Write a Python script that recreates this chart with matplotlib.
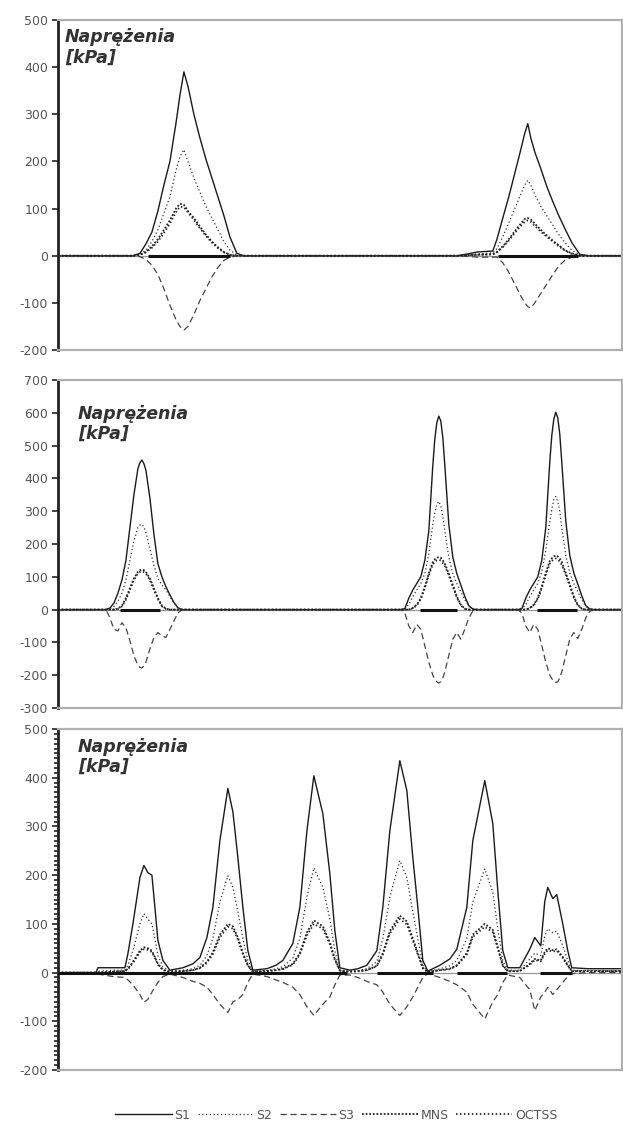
import matplotlib
matplotlib.use("Agg")
import matplotlib.pyplot as plt
from matplotlib.ticker import MultipleLocator
from matplotlib.lines import Line2D

plt.rcParams["axes.unicode_minus"] = False

# ---- panel 1 (top) ----
x_top = [0, 20, 40, 60, 75, 82, 88, 94, 100, 106, 112, 118, 122, 126, 130, 136,
         142, 148, 154, 160, 166, 172, 179, 186, 200, 250, 300, 350, 390, 400,
         420, 435, 439, 445, 451, 457, 463, 467, 470, 473, 477, 483, 489, 495,
         501, 507, 514, 522, 530, 545, 564]
s1_top = [0, 0, 0, 0, 0, 5, 25, 50, 95, 150, 200, 280, 340, 390, 360, 300,
          250, 205, 165, 125, 85, 40, 5, 0, 0, 0, 0, 0, 0, 0,
          8, 10, 34, 80, 125, 175, 225, 260, 280, 250, 220, 185, 147, 115,
          85, 58, 28, 3, 0, 0, 0]
s2_top = [0, 0, 0, 0, 0, 3, 12, 30, 55, 90, 125, 180, 210, 225, 200, 165,
          135, 105, 80, 55, 30, 12, 2, 0, 0, 0, 0, 0, 0, 0,
          4, 6, 15, 40, 70, 100, 130, 150, 160, 150, 130, 105, 85, 65,
          45, 28, 12, 2, 0, 0, 0]
s3_top = [0, 0, 0, 0, 0, -2, -8, -20, -40, -70, -105, -135, -150, -158, -150, -125,
          -95, -70, -45, -25, -10, -3, 0, 0, 0, 0, 0, 0, 0, 0,
          -3, -3, -3, -15, -35, -60, -85, -100, -108, -111, -100, -80, -60, -40,
          -22, -10, -3, 0, 0, 0, 0]
mns_top = [0, 0, 0, 0, 0, 2, 8, 20, 35, 55, 75, 100, 110, 108, 95, 80,
           62, 45, 30, 18, 8, 2, 0, 0, 0, 0, 0, 0, 0, 0,
           2, 3, 8, 20, 35, 52, 68, 78, 80, 77, 68, 55, 43, 32,
           22, 12, 5, 0, 0, 0, 0]
oct_top = [0, 0, 0, 0, 0, 2, 7, 17, 30, 48, 68, 92, 104, 103, 92, 76,
           58, 42, 28, 16, 7, 2, 0, 0, 0, 0, 0, 0, 0, 0,
           2, 3, 7, 18, 32, 48, 63, 72, 75, 72, 63, 51, 40, 30,
           20, 11, 4, 0, 0, 0, 0]
zero_top = [(90, 172), (440, 520)]

# ---- panel 2 (middle) ----
x_mid = [0, 48, 52, 56, 60, 64, 68, 72, 76, 80, 82, 84, 86, 88, 92, 96, 100, 104, 108, 112, 116, 120, 124,
         343, 347, 351, 355, 359, 363, 367, 371, 375, 377, 379, 381, 383, 385, 387, 391, 395, 399, 403, 407, 411, 415, 419,
         460, 464, 468, 472, 476, 480, 484, 488, 492, 494, 496, 498, 500, 502, 504, 508, 512, 516, 520, 524, 528, 532, 536,
         564]
s1_mid = [0, 0, 5, 20, 50, 90, 150, 250, 350, 430, 448, 456, 445, 425, 340, 230, 140, 100, 70, 45, 22, 6, 0,
          0, 3, 35, 60, 80, 100, 150, 240, 440, 520, 570, 590, 575, 525, 440, 260, 160, 110, 75, 40, 12, 2, 0,
          0, 3, 35, 60, 80, 100, 150, 250, 450, 530, 580, 602, 585, 535, 450, 270, 165, 112, 78, 42, 12, 2, 0,
          0]
s2_mid = [0, 0, 3, 10, 25, 50, 90, 150, 210, 250, 258, 260, 252, 235, 185, 135, 95, 75, 60, 40, 20, 5, 0,
          0, 2, 15, 40, 60, 80, 110, 170, 260, 295, 320, 330, 315, 285, 240, 160, 110, 80, 55, 30, 10, 2, 0,
          0, 2, 15, 40, 60, 80, 115, 180, 270, 305, 335, 345, 330, 300, 250, 165, 112, 80, 55, 30, 10, 2, 0,
          0]
s3_mid = [0, 0, -25, -60, -65, -40, -55, -95, -140, -170, -176, -178, -172, -160, -120, -85, -70, -80, -85, -60, -35, -10, 0,
          0, -10, -50, -70, -45, -60, -110, -160, -200, -212, -220, -224, -220, -208, -190, -140, -90, -70, -90, -60, -25, -5, 0,
          0, -10, -50, -70, -45, -60, -110, -160, -200, -210, -218, -222, -220, -208, -190, -140, -90, -70, -88, -60, -25, -5, 0,
          0]
mns_mid = [0, 0, 0, 0, 3, 12, 35, 65, 95, 115, 120, 122, 120, 115, 95, 65, 35, 12, 3, 0, 0, 0, 0,
           0, 0, 0, 5, 15, 35, 70, 110, 145, 153, 158, 160, 158, 150, 140, 110, 75, 40, 15, 3, 0, 0, 0,
           0, 0, 0, 5, 15, 35, 70, 112, 148, 156, 162, 165, 162, 155, 145, 112, 77, 40, 15, 3, 0, 0, 0,
           0]
oct_mid = [0, 0, 0, 0, 2, 10, 30, 60, 90, 110, 115, 117, 114, 110, 90, 60, 32, 10, 2, 0, 0, 0, 0,
           0, 0, 0, 4, 13, 32, 65, 105, 138, 145, 150, 152, 150, 142, 133, 104, 70, 37, 13, 2, 0, 0, 0,
           0, 0, 0, 4, 13, 32, 65, 106, 140, 148, 153, 156, 153, 147, 136, 106, 72, 37, 13, 2, 0, 0, 0,
           0]
zero_mid = [(62, 102), (362, 399), (479, 519)]

# ---- panel 3 (bottom) ----
x_bot = [0, 38, 40, 55, 67, 70, 75, 82, 86, 90, 94, 97, 100, 105, 112, 125, 135, 142, 149, 155,
         162, 170, 175, 180, 185, 190, 195, 209, 218, 225, 235, 242, 249, 256, 265, 272, 277, 282,
         292, 300, 309, 319, 325, 332, 342, 349, 355, 360, 365, 370, 382, 392, 399, 409, 415, 427,
         435, 440, 445, 450, 462, 472, 477, 483, 487, 490, 495, 499, 505, 510, 514, 530, 564]
s1_bot = [0, 0, 10, 10, 10, 39, 100, 195, 220, 205, 200, 134, 66, 25, 5, 10, 18, 31, 72, 134,
          271, 378, 330, 236, 134, 45, 5, 8, 15, 25, 60, 134, 290, 404, 326, 203, 86, 10,
          5, 8, 15, 45, 134, 291, 435, 374, 236, 134, 25, 3, 15, 28, 48, 134, 271, 394,
          306, 168, 45, 10, 10, 48, 72, 55, 146, 175, 152, 160, 100, 45, 10, 8, 8]
s2_bot = [0, 0, 3, 5, 5, 15, 45, 100, 121, 110, 100, 70, 35, 12, 3, 5, 8, 15, 35, 70,
          145, 199, 175, 125, 70, 25, 3, 4, 8, 12, 30, 70, 155, 215, 175, 110, 45, 5,
          3, 4, 8, 22, 70, 155, 230, 195, 125, 70, 15, 2, 8, 14, 25, 70, 145, 213,
          165, 90, 25, 5, 5, 28, 40, 35, 75, 90, 82, 85, 55, 25, 5, 4, 4]
s3_bot = [0, 0, -3, -8, -10, -15, -25, -45, -61, -55, -40, -30, -20, -8, -3, -10, -18, -22, -30, -45,
          -65, -82, -60, -55, -45, -20, -3, -8, -15, -20, -30, -45, -70, -88, -65, -50, -25, -5,
          -5, -10, -18, -25, -40, -65, -88, -70, -50, -30, -10, -2, -10, -18, -25, -40, -65, -95,
          -60, -45, -20, -5, -10, -35, -78, -50, -40, -30, -45, -35, -20, -8, -2, 0, 0]
mns_bot = [0, 0, 0, 2, 3, 8, 22, 45, 52, 50, 45, 32, 18, 6, 2, 3, 5, 10, 22, 42,
           78, 100, 95, 72, 40, 15, 2, 3, 5, 8, 18, 40, 82, 107, 95, 62, 28, 4,
           2, 3, 5, 14, 40, 85, 117, 105, 70, 40, 10, 1, 5, 8, 15, 40, 78, 100,
           88, 52, 15, 3, 3, 18, 28, 25, 42, 50, 46, 48, 32, 15, 3, 3, 3]
oct_bot = [0, 0, 0, 2, 3, 7, 20, 42, 48, 47, 42, 30, 16, 5, 2, 3, 5, 9, 20, 38,
           72, 94, 90, 68, 38, 14, 2, 3, 5, 7, 16, 37, 76, 100, 90, 58, 26, 4,
           2, 3, 5, 13, 37, 80, 110, 99, 66, 37, 9, 1, 5, 7, 14, 37, 73, 94,
           83, 49, 14, 3, 3, 16, 26, 23, 39, 46, 43, 45, 30, 14, 3, 3, 3]
zero_bot = [(0, 289), (319, 375), (399, 449), (482, 514)]

series_names = ["S1", "S2", "S3", "MNS", "OCTSS"]
styles = {
    "S1": dict(color="#1a1a1a", lw=1.0, ls="-"),
    "S2": dict(color="#333333", lw=0.9, dashes=(1, 2)),
    "S3": dict(color="#444444", lw=0.9, dashes=(5, 3)),
    "MNS": dict(color="#222222", lw=1.3, dashes=(1, 1)),
    "OCTSS": dict(color="#222222", lw=1.3, dashes=(0.8, 1.4)),
}

panels = [
    dict(x=x_top, data=[s1_top, s2_top, s3_top, mns_top, oct_top], zero=zero_top,
         ylim=(-200, 500), rect=[0.093, 0.6886, 0.905, 0.2936], txt=(0.012, 0.975), minor=False),
    dict(x=x_mid, data=[s1_mid, s2_mid, s3_mid, mns_mid, oct_mid], zero=zero_mid,
         ylim=(-300, 700), rect=[0.093, 0.3701, 0.905, 0.2918], txt=(0.035, 0.925), minor=False),
    dict(x=x_bot, data=[s1_bot, s2_bot, s3_bot, mns_bot, oct_bot], zero=zero_bot,
         ylim=(-200, 500), rect=[0.093, 0.0480, 0.905, 0.3034], txt=(0.035, 0.975), minor=True),
]

fig = plt.figure(figsize=(6.23, 11.24), dpi=100)

for p in panels:
    ax = fig.add_axes(p["rect"])
    ax.axhline(0, color="#999999", lw=0.9, zorder=1)
    for a, b in p["zero"]:
        ax.hlines(0, a, b, color="#111111", lw=2.2, zorder=3)
    for name, y in zip(series_names, p["data"]):
        ax.plot(p["x"], y, label=name, zorder=2, **styles[name])
    ax.set_xlim(0, 564)
    ax.set_ylim(*p["ylim"])
    ax.yaxis.set_major_locator(MultipleLocator(100))
    if p["minor"]:
        ax.yaxis.set_minor_locator(MultipleLocator(10))
        ax.tick_params(axis="y", which="minor", length=3, width=1.2, color="#222")
    ax.set_xticks([])
    ax.tick_params(axis="y", which="major", length=4, width=1.2, color="#222",
                   labelsize=9, labelcolor="#555555", pad=3)
    for side in ["top", "right", "bottom"]:
        ax.spines[side].set_color("#b0b0b0")
        ax.spines[side].set_linewidth(1.6)
    ax.spines["left"].set_color("#222222")
    ax.spines["left"].set_linewidth(2.0)
    ax.text(p["txt"][0], p["txt"][1], "Naprężenia\n[kPa]", transform=ax.transAxes,
            ha="left", va="top", fontsize=12.5, fontweight="bold", fontstyle="italic",
            color="#333333", linespacing=1.15)

handles = [Line2D([0], [0], **styles[n]) for n in series_names]
leg = fig.legend(handles, series_names, loc="center", bbox_to_anchor=(0.54, 0.008),
                 ncol=5, frameon=False, fontsize=9, handlelength=4.5, handletextpad=0.2,
                 columnspacing=0.6)
for t in leg.get_texts():
    t.set_color("#555555")

fig.savefig("out.png", dpi=100)
